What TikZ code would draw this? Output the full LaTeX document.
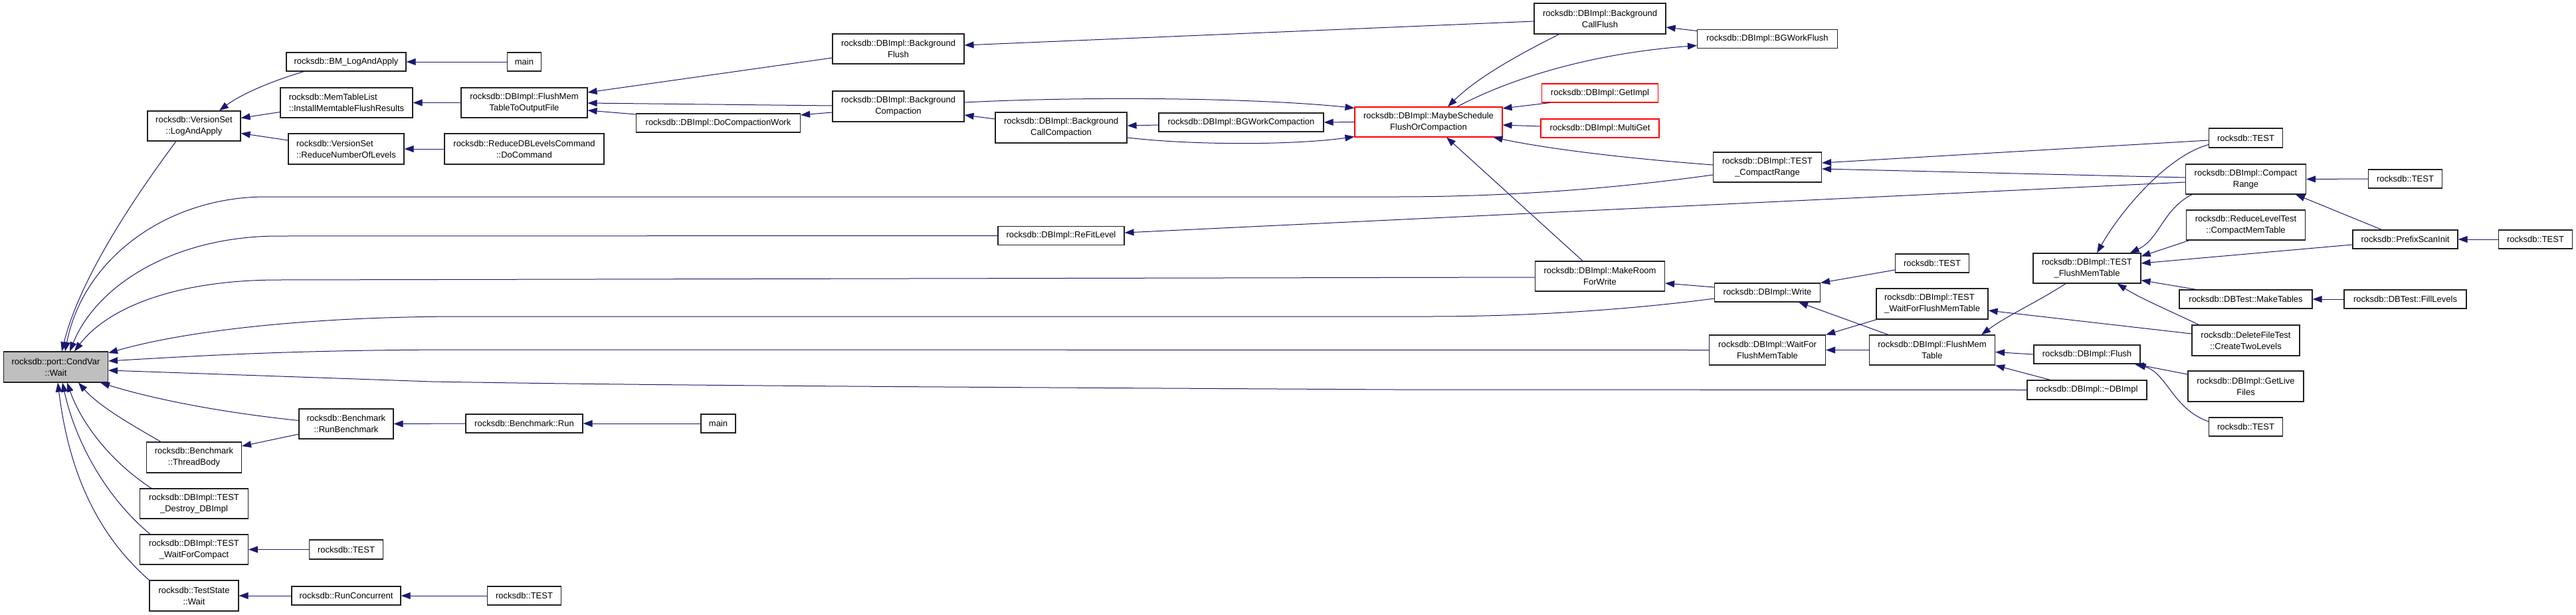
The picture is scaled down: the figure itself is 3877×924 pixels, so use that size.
\documentclass[tikz,border=0pt]{standalone}
\usepackage{fontspec}
\setmainfont{Liberation Sans}
\usetikzlibrary{arrows.meta,calc}
\definecolor{edgeblue}{HTML}{191970}
\definecolor{nodegray}{HTML}{BFBFBF}
\definecolor{boxline}{HTML}{202020}
\begin{document}
\begin{tikzpicture}[x=1pt,y=-1pt,
  nd/.style={draw=boxline,line width=1.1pt,fill=white,inner sep=0pt,align=center,
    font=\fontsize{13}{17}\selectfont,text=black},
  redbox/.style={nd,draw=red},
  callarrow/.style={draw=edgeblue,line width=1pt,-{Triangle[length=14pt,width=10pt]}}]
\fill[white] (0,0) rectangle (3877,924);
\useasboundingbox (0,0) rectangle (3877,924);

% ---------- nodes ----------
\node[nd,fill=nodegray,minimum width=157pt,minimum height=46pt] (cv) at (84,552) {rocksdb::port::CondVar\\::Wait};
\node[nd,minimum width=140pt,minimum height=45pt] (las) at (292,189.5) {rocksdb::VersionSet\\::LogAndApply};
\node[nd,minimum width=180pt,minimum height=28pt] (bml) at (521,93) {rocksdb::BM\_LogAndApply};
\node[nd,align=left,minimum width=199pt,minimum height=45pt] (imf) at (521.5,154.5) {rocksdb::MemTableList\\::InstallMemtableFlushResults};
\node[nd,align=left,minimum width=174pt,minimum height=46pt] (rnl) at (521,224) {rocksdb::VersionSet\\::ReduceNumberOfLevels};
\node[nd,minimum width=51pt,minimum height=28pt] (main1) at (789,93) {main};
\node[nd,minimum width=190pt,minimum height=45pt] (fmt) at (789,154.5) {rocksdb::DBImpl::FlushMem\\TableToOutputFile};
\node[nd,minimum width=240pt,minimum height=46pt] (dcmd) at (789,224) {rocksdb::ReduceDBLevelsCommand\\::DoCommand};
\node[nd,minimum width=247pt,minimum height=28pt] (dcw) at (1081,185) {rocksdb::DBImpl::DoCompactionWork};
\node[nd,minimum width=198pt,minimum height=45pt] (bgf) at (1352,73.5) {rocksdb::DBImpl::Background\\Flush};
\node[nd,minimum width=198pt,minimum height=46pt] (bgc) at (1352,160) {rocksdb::DBImpl::Background\\Compaction};
\node[nd,minimum width=198pt,minimum height=46pt] (bcc) at (1597,192) {rocksdb::DBImpl::Background\\CallCompaction};
\node[nd,minimum width=248pt,minimum height=28pt] (bwc) at (1868,184) {rocksdb::DBImpl::BGWorkCompaction};
\node[redbox,minimum width=222pt,minimum height=45pt] (msc) at (2150,183.5) {rocksdb::DBImpl::MaybeSchedule\\FlushOrCompaction};
\node[nd,minimum width=198pt,minimum height=46pt] (bcf) at (2408,28) {rocksdb::DBImpl::Background\\CallFlush};
\node[nd,minimum width=211pt,minimum height=28pt] (bwf) at (2660,58.5) {rocksdb::DBImpl::BGWorkFlush};
\node[redbox,minimum width=175pt,minimum height=28pt] (gi) at (2408,140) {rocksdb::DBImpl::GetImpl};
\node[redbox,minimum width=178pt,minimum height=28pt] (mg) at (2408,193) {rocksdb::DBImpl::MultiGet};
\node[nd,minimum width=195pt,minimum height=45pt] (mrw) at (2408,415.5) {rocksdb::DBImpl::MakeRoom\\ForWrite};
\node[nd,minimum width=190pt,minimum height=28pt] (rfl) at (1597,354.5) {rocksdb::DBImpl::ReFitLevel};
\node[nd,minimum width=163pt,minimum height=45pt] (tcr) at (2660,251.5) {rocksdb::DBImpl::TEST\\\_CompactRange};
\node[nd,minimum width=159pt,minimum height=28pt] (wr) at (2660,440) {rocksdb::DBImpl::Write};
\node[nd,minimum width=111pt,minimum height=28pt] (t1) at (2908,396) {rocksdb::TEST};
\node[nd,align=left,minimum width=168pt,minimum height=46pt] (twf) at (2908,457) {rocksdb::DBImpl::TEST\\\_WaitForFlushMemTable};
\node[nd,minimum width=175pt,minimum height=45pt] (wff) at (2660,526.5) {rocksdb::DBImpl::WaitFor\\FlushMemTable};
\node[nd,minimum width=189pt,minimum height=45pt] (fm) at (2908,526.5) {rocksdb::DBImpl::FlushMem\\Table};
\node[nd,minimum width=160pt,minimum height=28pt] (fl) at (3141,533) {rocksdb::DBImpl::Flush};
\node[nd,minimum width=180pt,minimum height=29pt] (dtor) at (3141,586.5) {rocksdb::DBImpl::\textasciitilde DBImpl};
\node[nd,minimum width=162pt,minimum height=45pt] (tfm) at (3141,403.5) {rocksdb::DBImpl::TEST\\\_FlushMemTable};
\node[nd,minimum width=111pt,minimum height=29pt] (t2) at (3380,207.5) {rocksdb::TEST};
\node[nd,minimum width=181pt,minimum height=45pt] (cr) at (3380,269.5) {rocksdb::DBImpl::Compact\\Range};
\node[nd,minimum width=111pt,minimum height=28pt] (t3) at (3620,269) {rocksdb::TEST};
\node[nd,minimum width=179pt,minimum height=45pt] (rlt) at (3380,338.5) {rocksdb::ReduceLevelTest\\::CompactMemTable};
\node[nd,minimum width=158pt,minimum height=28pt] (psi) at (3620,360) {rocksdb::PrefixScanInit};
\node[nd,minimum width=111pt,minimum height=28pt] (t4) at (3816,360) {rocksdb::TEST};
\node[nd,minimum width=200pt,minimum height=28pt] (mt) at (3380,450) {rocksdb::DBTest::MakeTables};
\node[nd,minimum width=184pt,minimum height=28pt] (fil) at (3620,450) {rocksdb::DBTest::FillLevels};
\node[nd,minimum width=162pt,minimum height=46pt] (dft) at (3380,512) {rocksdb::DeleteFileTest\\::CreateTwoLevels};
\node[nd,minimum width=174pt,minimum height=46pt] (glf) at (3380,581) {rocksdb::DBImpl::GetLive\\Files};
\node[nd,minimum width=111pt,minimum height=28pt] (t5) at (3380,642) {rocksdb::TEST};
\node[nd,minimum width=142pt,minimum height=45pt] (rb) at (521,637.5) {rocksdb::Benchmark\\::RunBenchmark};
\node[nd,minimum width=143pt,minimum height=46pt] (tb) at (292,688) {rocksdb::Benchmark\\::ThreadBody};
\node[nd,minimum width=163pt,minimum height=45pt] (td) at (292,757.5) {rocksdb::DBImpl::TEST\\\_Destroy\_DBImpl};
\node[nd,minimum width=163pt,minimum height=45pt] (twc) at (292,826.5) {rocksdb::DBImpl::TEST\\\_WaitForCompact};
\node[nd,minimum width=111pt,minimum height=29pt] (t6) at (521,826.5) {rocksdb::TEST};
\node[nd,minimum width=134pt,minimum height=46pt] (tsw) at (292,896) {rocksdb::TestState\\::Wait};
\node[nd,minimum width=164pt,minimum height=28pt] (rc) at (521,896) {rocksdb::RunConcurrent};
\node[nd,minimum width=111pt,minimum height=28pt] (t7) at (789,896) {rocksdb::TEST};
\node[nd,minimum width=176pt,minimum height=28pt] (brun) at (789,637) {rocksdb::Benchmark::Run};
\node[nd,minimum width=52pt,minimum height=28pt] (main2) at (1081,637) {main};

% ---------- edges (arrow at callee) ----------
% left cluster
\draw[callarrow] ($(bml.south west)+(27,0)$) .. controls (415,120) and (365,140) .. ($(las.north)+(38,0)$);
\draw[callarrow] ($(imf.west)+(0,14)$) -- ($(las.east)+(0,-12)$);
\draw[callarrow] ($(rnl.west)+(0,-13)$) -- ($(las.east)+(0,11)$);
\draw[callarrow] (main1.west) -- (bml.east);
\draw[callarrow] (fmt.west) -- (imf.east);
\draw[callarrow] (dcmd.west) -- (rnl.east);

% into CondVar::Wait
\draw[callarrow] ($(las.south)+(-27,0)$) .. controls (200,300) and (120,420) .. ($(cv.north)+(9,0)$);
\draw[callarrow] ($(tcr.west)+(0,11.5)$) .. controls (2420,285) and (2260,296) .. (2100,296) -- (400,296) .. controls (250,296) and (125,390) .. ($(cv.north)+(14,0)$);
\draw[callarrow] (rfl.west) -- (420,355) .. controls (260,355) and (145,430) .. ($(cv.north)+(21,0)$);
\draw[callarrow] ($(mrw.west)+(0,1.5)$) -- (420,421) .. controls (260,421) and (160,465) .. ($(cv.north)+(28,0)$);
\draw[callarrow] ($(wr.west)+(0,9)$) .. controls (2450,466) and (2300,476) .. (2150,476) -- (700,476) .. controls (450,476) and (270,500) .. ($(cv.east)+(0,-21)$);
\draw[callarrow] (wff.west) -- (700,526) .. controls (450,526) and (300,535) .. ($(cv.east)+(0,-9)$);
\draw[callarrow] (dtor.west) -- (2100,586) .. controls (1400,582) and (1000,580) .. (650,574) -- ($(cv.east)+(0,5)$);
\draw[callarrow] ($(rb.west)+(0,-5)$) .. controls (330,620) and (230,600) .. ($(cv.south east)+(-12,0)$);
\draw[callarrow] ($(tb.north)+(-50,0)$) .. controls (200,640) and (150,612) .. ($(cv.south)+(34,0)$);
\draw[callarrow] ($(td.north)+(-64,0)$) .. controls (160,690) and (120,630) .. ($(cv.south)+(17,0)$);
\draw[callarrow] ($(twc.north)+(-66,0)$) .. controls (150,740) and (110,650) .. ($(cv.south)+(10,0)$);
\draw[callarrow] (tsw.north west) .. controls (130,790) and (100,680) .. ($(cv.south)+(3,0)$);

% bottom-left chains
\draw[callarrow] ($(rb.west)+(0,15.5)$) -- ($(tb.east)+(0,-17)$);
\draw[callarrow] (brun.west) -- (rb.east);
\draw[callarrow] (main2.west) -- (brun.east);
\draw[callarrow] (t6.west) -- (twc.east);
\draw[callarrow] (rc.west) -- (tsw.east);
\draw[callarrow] (t7.west) -- (rc.east);

% top middle cluster
\draw[callarrow] ($(bgf.west)+(0,13.5)$) -- ($(fmt.east)+(0,-15.5)$);
\draw[callarrow] ($(bgc.west)+(0,-1)$) -- ($(fmt.east)+(0,0.5)$);
\draw[callarrow] ($(dcw.west)+(0,-13)$) -- ($(fmt.east)+(0,11.5)$);
\draw[callarrow] ($(bgc.west)+(0,9)$) -- ($(dcw.east)+(0,-12)$);
\draw[callarrow] ($(bcc.west)+(0,-13)$) -- ($(bgc.east)+(0,13)$);
\draw[callarrow] ($(bwc.west)+(0,4)$) -- ($(bcc.east)+(0,-3)$);
\draw[callarrow] ($(bcc.east)+(0,15)$) .. controls (1800,219) and (1950,218) .. ($(msc.south west)+(0,-1)$);
\draw[callarrow] ($(bgc.east)+(0,-6)$) .. controls (1650,144) and (1900,148) .. ($(msc.west)+(0,-21)$);
\draw[callarrow] (msc.west) -- (bwc.east);
\draw[callarrow] ($(msc.north)+(43,0)$) .. controls (2280,115) and (2400,80) .. ($(bwf.west)+(0,10)$);
\draw[callarrow] ($(bcf.south west)+(38,0)$) .. controls (2290,80) and (2225,115) .. ($(msc.north)+(29,0)$);
\draw[callarrow] ($(bwf.west)+(0,-12)$) -- ($(bcf.east)+(0,13)$);
\draw[callarrow] ($(bcf.west)+(0,4)$) -- ($(bgf.east)+(0,-5.5)$);
\draw[callarrow] ($(gi.south west)+(13,0)$) -- ($(msc.east)+(0,-20.5)$);
\draw[callarrow] ($(mg.west)+(0,-3)$) -- ($(msc.east)+(0,4.5)$);
\draw[callarrow] ($(tcr.west)+(0,-3.5)$) .. controls (2430,237) and (2320,222) .. ($(msc.south east)+(-14,0)$);
\draw[callarrow] ($(mrw.north)+(-26,0)$) -- ($(msc.south)+(27,0)$);
\draw[callarrow] ($(wr.west)+(0,-8)$) -- ($(mrw.east)+(0,10.5)$);

% right cluster
\draw[callarrow] ($(t2.west)+(0,3.5)$) -- ($(tcr.east)+(0,-6.5)$);
\draw[callarrow] ($(cr.west)+(0,-2.5)$) -- ($(tcr.east)+(0,2.5)$);
\draw[callarrow] ($(cr.west)+(0,4.5)$) -- ($(rfl.east)+(0,-4.5)$);
\draw[callarrow] ($(t2.south west)+(0,-5)$) .. controls (3260,235) and (3190,320) .. ($(tfm.north)+(15,0)$);
\draw[callarrow] ($(cr.south west)+(10,0)$) .. controls (3255,315) and (3250,360) .. ($(tfm.north east)+(-17,0)$);
\draw[callarrow] ($(rlt.south west)+(5,0)$) -- ($(tfm.east)+(0,-18)$);
\draw[callarrow] ($(psi.west)+(0,8)$) -- ($(tfm.east)+(0,-7.5)$);
\draw[callarrow] ($(mt.north west)+(26,0)$) -- ($(tfm.east)+(0,18)$);
\draw[callarrow] ($(dft.north west)+(11,0)$) .. controls (3260,465) and (3220,448) .. ($(tfm.south east)+(-36,0)$);
\draw[callarrow] ($(dft.west)+(0,-10)$) -- ($(twf.east)+(0,10)$);
\draw[callarrow] (t3.west) -- (cr.east);
\draw[callarrow] ($(psi.north)+(-35.5,0)$) -- ($(cr.south east)+(-16,0)$);
\draw[callarrow] (t4.west) -- (psi.east);
\draw[callarrow] (fil.west) -- (mt.east);
\draw[callarrow] ($(tfm.south)+(-32,0)$) .. controls (3065,455) and (3020,475) .. ($(fm.north east)+(-21,0)$);
\draw[callarrow] (fl.west) -- ($(fm.east)+(0,3)$);
\draw[callarrow] ($(dtor.north)+(-55,0)$) -- (fm.south east);
\draw[callarrow] ($(glf.west)+(0,-18)$) -- ($(fl.south east)+(-9,0)$);
\draw[callarrow] ($(t5.west)+(0,-8)$) .. controls (3270,615) and (3262,562) .. ($(fl.south east)+(-6,0)$);
\draw[callarrow] (fm.west) -- (wff.east);
\draw[callarrow] ($(twf.south west)+(1,0)$) -- (wff.north east);
\draw[callarrow] ($(fm.north west)+(29,0)$) -- ($(wr.south)+(47,0)$);
\draw[callarrow] ($(t1.west)+(0,10)$) -- (wr.north east);
\end{tikzpicture}
\end{document}
